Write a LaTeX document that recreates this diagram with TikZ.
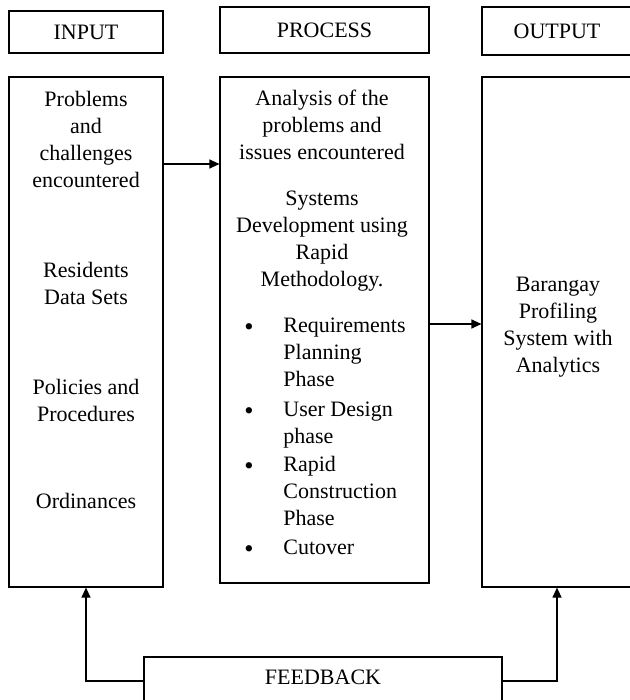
\documentclass[tikz,border=0pt]{standalone}
\usepackage{fontspec}
\setmainfont{Liberation Serif}
\usetikzlibrary{arrows.meta}

\tikzset{
    box/.style={draw, line width=0.6pt, inner sep=0pt},
    txt/.style={inner sep=0pt},
    dot/.style={inner sep=0pt, scale=1.2},
    flow/.style={line width=0.6pt, -{Triangle[length=5pt,width=4.5pt]}},
}

\begin{document}
\begin{tikzpicture}[x=0.5pt,y=-0.5pt,every node/.style={font=\fontsize{11}{13.5}\selectfont}]
    \useasboundingbox (0,0) rectangle (630,700);
    % headings
    \node[box, minimum width=77pt, minimum height=21pt] (intitle) at (86,32) {INPUT};
    \node[box, minimum width=104.5pt, minimum height=23pt] (protitle) at (324.5,30) {PROCESS};
    \node[box, minimum width=75pt, minimum height=24pt] (outtitle) at (557,31) {OUTPUT};
    % columns
    \node[box, minimum width=77pt, minimum height=255pt] (inbox) at (86,332) {};
    \node[box, minimum width=104.5pt, minimum height=253pt] (probox) at (324.5,330) {};
    \node[box, minimum width=75pt, minimum height=255pt] (outbox) at (557,332) {};
    \node[box, minimum width=179pt, minimum height=24pt, text depth=4pt] (feedback) at (323,681) {FEEDBACK};

    % input
    \node[txt, align=center] (prob) at (86,139) {Problems\\and\\challenges\\encountered};
    \node[txt, align=center] (res) at (86,283) {Residents\\Data Sets};
    \node[txt, align=center] (pol) at (86,400) {Policies and\\Procedures};
    \node[txt] (ord) at (86,501) {Ordinances};

    % process
    \node[txt, align=center] (ana) at (322,125) {Analysis of the\\problems and\\issues encountered};
    \node[txt, align=center] (sys) at (322,241) {Systems\\Development using\\Rapid\\Methodology.};
    \foreach \y/\n in {330/b1, 414/b2, 469/b3, 552/b4}
        \node[dot] (\n) at (249,\y) {\textbullet};
    \node[txt, align=left, anchor=west] (req) at (283,352) {Requirements\\Planning\\Phase};
    \node[txt, align=left, anchor=west] (ud) at (283,425) {User Design\\phase};
    \node[txt, align=left, anchor=west] (rc) at (283,491) {Rapid\\Construction\\Phase};
    \node[txt, anchor=west] (cut) at (283,547) {Cutover};

    % output
    \node[txt, align=center] (bps) at (558,327) {Barangay\\Profiling\\System with\\Analytics};

    % arrows
    \coordinate (a1) at (0,164);
    \coordinate (a2) at (0,324);
    \draw[flow] (inbox.east |- a1) -- (probox.west |- a1);
    \draw[flow] (probox.east |- a2) -- (outbox.west |- a2);
    \draw[flow] (feedback.west) -| (inbox.south);
    \draw[flow] (feedback.east) -| (outbox.south);
\end{tikzpicture}
\end{document}
